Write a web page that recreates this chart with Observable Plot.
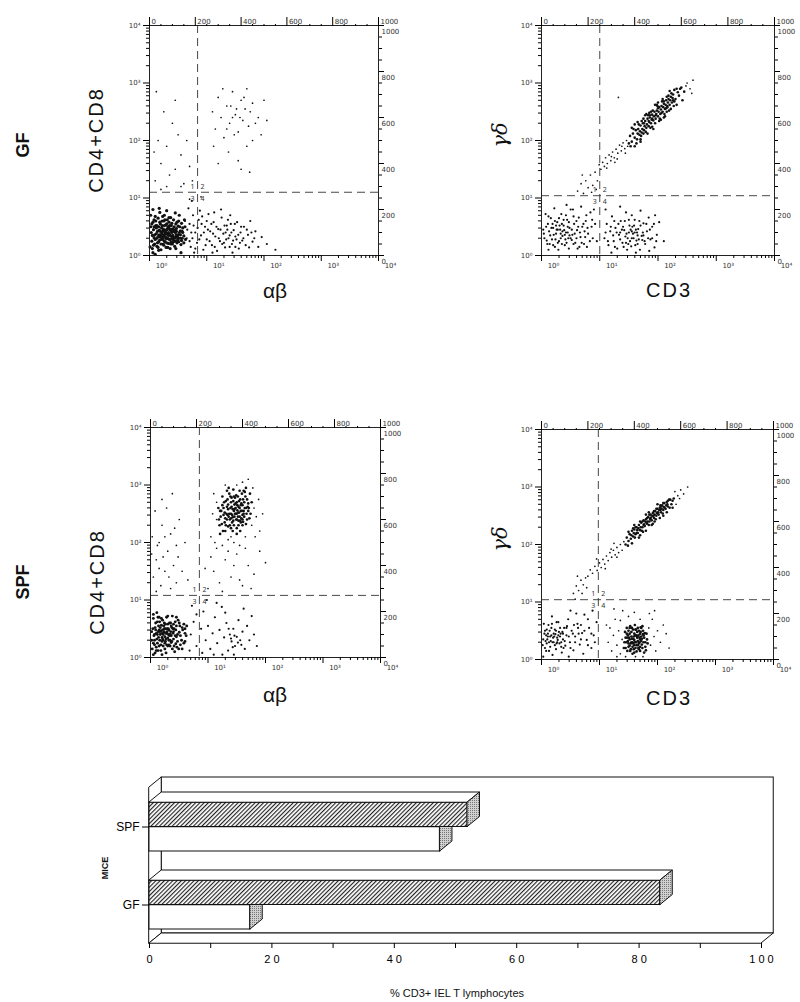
<!DOCTYPE html>
<html><head><meta charset="utf-8">
<script src="https://cdn.jsdelivr.net/npm/d3@7"></script>
<script src="https://cdn.jsdelivr.net/npm/@observablehq/plot@0.6"></script>
<style>
body{margin:0;background:#fff;width:800px;height:1002px;position:relative;overflow:hidden;font-family:"Liberation Sans",Arial,sans-serif;}
.lab{position:absolute;color:#111;white-space:nowrap;line-height:1;}
</style></head><body>
<svg width="0" height="0" style="position:absolute;left:0;top:0"><defs>
<pattern id="hatch" patternUnits="userSpaceOnUse" width="3" height="3" patternTransform="rotate(45)"><rect width="3" height="3" fill="#fff"/><line x1="0.5" y1="0" x2="0.5" y2="3" stroke="#222" stroke-width="1.3"/></pattern>
<pattern id="stipple" patternUnits="userSpaceOnUse" width="2" height="2"><rect width="2" height="2" fill="#d0d0d0"/><rect width="1" height="1" fill="#777"/></pattern>
</defs></svg>
<script>
// ---------- axis tick labels ----------
const decades = [0, 1, 2, 3, 4];
const decadeLabels = ["10⁰", "10¹", "10²", "10³", "10⁴"];
const channelMajor = [0, 200, 400, 600, 800, 1000];
const channelMinor = [50,100,150,250,300,350,450,500,550,650,700,750,850,900,950];
const quadrants = ["1", "2", "3", "4"];

// ---------- scatter data (log10 decades: [x, y]) ----------
// GF: CD4+CD8 vs alpha-beta
const gfAlphaBetaDense = [[0.05,0.12],[0.08,0.31],[0.11,0.52],[0.14,0.22],[0.17,0.44],[0.2,0.35],[0.22,0.6],[0.25,0.18],[0.27,0.41],[0.3,0.29],[0.32,0.5],[0.35,0.37],[0.38,0.23],[0.4,0.46],[0.43,0.31],[0.46,0.55],[0.49,0.27],[0.52,0.4],[0.55,0.19],[0.58,0.48],
[0.03,0.4],[0.06,0.58],[0.09,0.2],[0.12,0.38],[0.15,0.65],[0.18,0.27],[0.21,0.48],[0.24,0.33],[0.26,0.7],[0.29,0.14],[0.31,0.37],[0.34,0.58],[0.36,0.27],[0.39,0.4],[0.42,0.62],[0.44,0.16],[0.47,0.36],[0.5,0.51],[0.53,0.3],[0.6,0.34],
[0.04,0.25],[0.07,0.45],[0.1,0.68],[0.13,0.3],[0.16,0.09],[0.19,0.55],[0.23,0.42],[0.25,0.26],[0.28,0.53],[0.3,0.45],[0.33,0.21],[0.35,0.46],[0.37,0.66],[0.41,0.28],[0.44,0.44],[0.48,0.22],[0.51,0.6],[0.54,0.43],[0.57,0.3],[0.62,0.5],
[0.02,0.7],[0.06,0.05],[0.09,0.36],[0.12,0.48],[0.15,0.33],[0.18,0.75],[0.2,0.2],[0.23,0.3],[0.26,0.52],[0.28,0.32],[0.31,0.62],[0.33,0.4],[0.36,0.12],[0.38,0.52],[0.41,0.35],[0.45,0.25],[0.47,0.47],[0.5,0.36],[0.56,0.56],[0.6,0.22],
[0.08,0.5],[0.13,0.16],[0.17,0.36],[0.21,0.28],[0.24,0.46],[0.27,0.24],[0.29,0.4],[0.32,0.3],[0.34,0.5],[0.37,0.34],[0.4,0.2],[0.42,0.42],[0.46,0.32],[0.19,0.42],[0.22,0.38],[0.26,0.36],[0.3,0.22],[0.35,0.28],[0.39,0.3],[0.16,0.5],
[0.01,0.15],[0.04,0.55],[0.07,0.18],[0.1,0.28],[0.11,0.6],[0.14,0.42],[0.16,0.24],[0.18,0.58],[0.2,0.1],[0.21,0.4],[0.23,0.68],[0.24,0.2],[0.26,0.44],[0.27,0.62],[0.29,0.3],[0.3,0.55],[0.32,0.14],[0.33,0.35],[0.34,0.66],[0.36,0.45],[0.37,0.2],[0.39,0.56],[0.4,0.33],[0.42,0.24],[0.43,0.5],[0.45,0.4],[0.46,0.12],[0.48,0.58],[0.49,0.34],[0.51,0.24],[0.52,0.7],[0.54,0.36],[0.56,0.26],[0.58,0.4],[0.61,0.62],[0.63,0.28],[0.02,0.5],[0.05,0.35],[0.08,0.62],[0.13,0.52],[0.15,0.14],[0.19,0.32],[0.22,0.52],[0.25,0.6],[0.28,0.38],[0.31,0.46],[0.35,0.52],[0.38,0.42],[0.41,0.46],[0.44,0.3],[0.47,0.42],[0.5,0.3],[0.53,0.5],[0.57,0.42],[0.06,0.8],[0.17,0.82],[0.3,0.78],[0.45,0.74],[0.55,0.05],[0.1,0.02]];
const gfAlphaBetaQ4 = [[0.65,0.3],[0.7,0.55],[0.72,0.15],[0.76,0.7],[0.8,0.4],[0.83,0.22],[0.86,0.62],[0.9,0.35],[0.94,0.1],[0.97,0.5],[1.0,0.28],[1.03,0.72],[1.06,0.42],[1.09,0.18],[1.12,0.58],[1.15,0.33],[1.18,0.08],[1.2,0.46],[1.23,0.25],[1.26,0.66],[1.29,0.38],[1.32,0.14],[1.35,0.52],[1.38,0.3],[1.41,0.7],[1.44,0.2],[1.47,0.44],[1.5,0.33],[1.53,0.58],[1.56,0.12],[1.59,0.4],[1.62,0.26],[1.65,0.5],[1.68,0.18],[1.72,0.36],[1.76,0.6],[1.8,0.24],[1.85,0.42],[1.9,0.15],[1.96,0.32],[0.68,0.82],[0.78,0.05],[0.88,0.78],[1.0,0.6],[1.1,0.05],[1.25,0.8],[1.36,0.45],[1.45,0.05],[1.3,0.22],[1.52,0.28],[1.58,0.22],[1.4,0.35],[2.05,0.2],[2.2,0.1],[0.74,0.95],
[0.62,0.6],[0.66,0.45],[0.7,0.25],[0.73,0.4],[0.77,0.52],[0.8,0.12],[0.84,0.48],[0.87,0.28],[0.91,0.55],[0.95,0.4],[0.98,0.18],[1.02,0.45],[1.05,0.25],[1.08,0.55],[1.11,0.38],[1.14,0.15],[1.17,0.5],[1.21,0.3],[1.24,0.45],[1.27,0.2],[1.31,0.52],[1.34,0.28],[1.37,0.62],[1.4,0.15],[1.43,0.4],[1.46,0.26],[1.49,0.55],[1.55,0.36],[1.6,0.5],[1.64,0.3],[1.7,0.45],[1.74,0.14],[1.78,0.4],[1.83,0.3],[0.75,0.3],[0.92,0.68],[1.13,0.75],[1.33,0.4],[1.5,0.15],[1.42,0.55]];
const gfAlphaBetaQ2 = [[1.1,2.5],[1.15,2.2],[1.2,2.75],[1.25,2.4],[1.3,2.05],[1.35,2.6],[1.4,2.3],[1.45,2.85],[1.5,2.45],[1.55,2.15],[1.6,2.7],[1.63,2.35],[1.67,2.55],[1.7,2.9],[1.73,2.25],[1.76,2.5],[1.8,2.65],[1.85,2.3],[1.9,2.4],[1.42,2.6],[1.52,2.55],[1.58,2.4],[1.65,2.75],[1.48,2.1],[1.38,1.8],[1.55,1.65],[1.7,1.9],[1.2,1.6],[1.95,2.1],[2.05,2.35],[1.28,2.9],[1.12,1.9],[1.6,1.5],[1.8,2.0],[1.45,2.4],[1.35,2.2],[2.0,2.7],[1.75,1.45]];
const gfAlphaBetaQ1 = [[0.1,1.3],[0.2,1.6],[0.15,2.0],[0.35,1.4],[0.3,1.9],[0.45,1.5],[0.55,1.75],[0.25,2.5],[0.4,2.3],[0.6,1.25],[0.7,1.55],[0.12,2.85],[0.5,2.1],[0.3,1.2],[0.65,2.0],[0.08,1.8],[0.2,1.15],[0.45,2.7],[0.75,1.3],[0.55,1.2],[0.7,0.98],[0.9,1.02]];

// GF: gamma-delta vs CD3
const gfGammaDeltaDiag = [[1.5,1.95],[1.52,2.08],[1.55,1.98],[1.57,2.12],[1.6,2.05],[1.62,2.18],[1.64,2.02],[1.66,2.2],[1.68,2.1],[1.7,2.26],[1.72,2.14],[1.74,2.3],[1.76,2.18],[1.78,2.34],[1.8,2.22],[1.82,2.38],[1.84,2.25],[1.86,2.4],[1.88,2.3],[1.9,2.45],[1.92,2.35],[1.94,2.5],[1.96,2.38],[1.98,2.52],[2.0,2.42],[2.02,2.58],[2.04,2.46],[2.06,2.6],[2.08,2.5],[2.1,2.64],[2.12,2.55],[2.14,2.7],[2.16,2.58],[2.18,2.72],[2.2,2.62],[2.22,2.76],[2.24,2.66],[2.26,2.8],[2.3,2.72],[2.34,2.84],
[1.53,1.9],[1.58,2.2],[1.63,1.95],[1.67,2.28],[1.71,2.08],[1.75,2.38],[1.79,2.15],[1.83,2.44],[1.87,2.22],[1.91,2.52],[1.95,2.3],[1.99,2.6],[2.03,2.38],[2.07,2.68],[2.11,2.46],[2.15,2.76],[2.19,2.52],[2.23,2.82],[2.27,2.6],[2.32,2.9],[1.85,2.32],[1.89,2.36],[1.93,2.42],[1.97,2.46],[2.01,2.5],[2.05,2.54],[2.09,2.58],[2.13,2.62],[2.17,2.66],[1.81,2.28],[1.77,2.25],[1.73,2.2],[1.69,2.16],[1.65,2.12],[2.21,2.7],[2.25,2.74],[2.36,2.78],[2.4,2.92],[2.45,2.85],[2.28,2.68],
[1.6,2.28],[1.7,2.02],[1.8,2.46],[1.9,2.24],[2.0,2.66],[2.1,2.4],[2.2,2.86],[1.75,2.12],[1.95,2.62],[2.05,2.36],[1.85,2.48],[2.15,2.5],
[1.55,2.22],[1.6,1.9],[1.65,2.32],[1.7,1.98],[1.78,2.44],[1.82,2.12],[1.88,2.5],[1.92,2.2],[1.98,2.62],[2.02,2.34],[2.08,2.72],[2.12,2.42],[2.18,2.78],[2.22,2.55],[2.28,2.88],[2.32,2.62],[2.38,2.9],[2.42,2.7],[1.72,2.34],[1.84,2.34],[1.96,2.44],[2.06,2.48],[2.16,2.6],[1.9,2.38],[2.0,2.56],[2.1,2.68],[1.76,2.3],[1.86,2.44],[2.26,2.7],[2.14,2.56]];
const gfGammaDeltaDiagLow = [[1.02,1.5],[1.05,1.62],[1.08,1.55],[1.1,1.7],[1.13,1.6],[1.16,1.75],[1.19,1.65],[1.22,1.8],[1.25,1.7],[1.28,1.85],[1.31,1.78],[1.34,1.92],[1.37,1.82],[1.4,1.96],[1.43,1.86],[1.46,2.0],[1.48,1.9],[1.2,1.72],[1.3,1.68],[1.38,1.9],[1.12,1.52],[1.26,1.62],[1.44,1.78],
[0.62,1.12],[0.68,1.25],[0.72,1.08],[0.76,1.3],[0.8,1.18],[0.84,1.4],[0.88,1.22],[0.92,1.45],[0.96,1.3],[0.99,1.58],[0.7,1.4],[0.86,1.1],[0.94,1.15],
[2.5,3.0],[2.55,2.9],[2.6,3.05],[2.48,2.95],[2.58,2.82],[1.32,2.75]];
const gfGammaDeltaBL = [[0.05,0.3],[0.08,0.5],[0.1,0.2],[0.13,0.42],[0.16,0.65],[0.18,0.28],[0.2,0.48],[0.23,0.15],[0.25,0.38],[0.27,0.58],[0.3,0.25],[0.32,0.45],[0.34,0.72],[0.36,0.34],[0.38,0.52],[0.4,0.18],[0.42,0.4],[0.44,0.62],[0.46,0.3],[0.48,0.48],[0.5,0.8],[0.53,0.36],[0.56,0.55],[0.58,0.22],[0.61,0.44],[0.64,0.66],[0.67,0.32],[0.7,0.5],[0.73,0.2],[0.76,0.6],[0.8,0.38],[0.84,0.75],[0.88,0.3],[0.92,0.55],[0.07,0.72],[0.12,0.1],[0.22,0.82],[0.29,0.1],[0.35,0.55],[0.41,0.28],[0.47,0.12],[0.55,0.68],[0.62,0.12],[0.68,0.85],[0.78,0.15],[0.86,0.5],[0.95,0.25],[0.15,0.35],[0.24,0.28],[0.33,0.38],[0.39,0.44],[0.45,0.5],[0.28,0.45],[0.19,0.55],[0.52,0.27],[0.6,0.6],[0.74,0.42],[0.9,0.8],[0.03,0.45],[0.43,0.88],
[0.04,0.38],[0.09,0.26],[0.11,0.55],[0.14,0.2],[0.17,0.48],[0.21,0.36],[0.23,0.6],[0.26,0.45],[0.28,0.22],[0.31,0.52],[0.33,0.3],[0.36,0.42],[0.38,0.62],[0.4,0.36],[0.43,0.22],[0.45,0.4],[0.47,0.58],[0.5,0.3],[0.52,0.45],[0.55,0.2],[0.57,0.38],[0.6,0.3],[0.63,0.5],[0.66,0.4],[0.69,0.22],[0.72,0.55],[0.75,0.32],[0.79,0.48],[0.83,0.25],[0.87,0.62],[0.2,0.18],[0.3,0.65],[0.42,0.7],[0.54,0.8],[0.65,0.15],[0.77,0.7],[0.12,0.68],[0.25,0.52],[0.35,0.2],[0.48,0.35]];
const gfGammaDeltaBR = [[1.08,0.3],[1.12,0.55],[1.15,0.18],[1.18,0.42],[1.21,0.68],[1.24,0.25],[1.27,0.48],[1.3,0.12],[1.33,0.36],[1.36,0.6],[1.39,0.22],[1.42,0.44],[1.45,0.75],[1.48,0.3],[1.51,0.52],[1.54,0.16],[1.57,0.38],[1.6,0.62],[1.63,0.26],[1.66,0.46],[1.69,0.1],[1.72,0.34],[1.75,0.56],[1.78,0.2],[1.81,0.42],[1.84,0.66],[1.87,0.28],[1.9,0.5],[1.94,0.14],[1.98,0.36],[2.02,0.58],[1.1,0.8],[1.2,0.05],[1.35,0.85],[1.47,0.1],[1.55,0.7],[1.62,0.05],[1.7,0.78],[1.85,0.08],[1.5,0.4],[1.58,0.3],[1.65,0.35],[1.52,0.25],[1.44,0.33],[1.62,0.45],[1.73,0.27],[1.4,0.5],[1.56,0.5],[1.68,0.6],[2.1,0.25],[1.95,0.7],[1.25,0.6],
[1.1,0.4],[1.14,0.25],[1.19,0.5],[1.23,0.35],[1.26,0.15],[1.29,0.4],[1.32,0.55],[1.35,0.28],[1.38,0.45],[1.41,0.15],[1.43,0.6],[1.46,0.38],[1.49,0.2],[1.53,0.45],[1.55,0.3],[1.59,0.52],[1.61,0.18],[1.64,0.4],[1.67,0.28],[1.7,0.52],[1.74,0.4],[1.77,0.25],[1.8,0.55],[1.83,0.3],[1.86,0.45],[1.9,0.3],[1.93,0.55],[1.97,0.25],[1.5,0.62],[1.6,0.4],[1.45,0.22],[1.65,0.2],[1.35,0.4],[1.55,0.42],[1.75,0.35]];

// SPF: CD4+CD8 vs alpha-beta
const spfAlphaBetaQ2 = [[1.2,2.3],[1.23,2.55],[1.26,2.2],[1.28,2.7],[1.3,2.42],[1.33,2.62],[1.35,2.28],[1.37,2.85],[1.4,2.5],[1.42,2.35],[1.44,2.72],[1.46,2.45],[1.48,2.6],[1.5,2.25],[1.52,2.8],[1.54,2.52],[1.56,2.38],[1.58,2.68],[1.6,2.48],[1.62,2.9],[1.64,2.6],[1.66,2.32],[1.68,2.75],[1.7,2.55],[1.72,2.42],
[1.22,2.45],[1.25,2.65],[1.29,2.35],[1.32,2.5],[1.34,2.75],[1.38,2.4],[1.41,2.62],[1.43,2.2],[1.47,2.78],[1.49,2.4],[1.51,2.65],[1.53,2.3],[1.57,2.55],[1.59,2.85],[1.61,2.36],[1.63,2.7],[1.67,2.5],[1.69,2.62],[1.45,2.55],[1.5,2.5],[1.55,2.6],[1.4,2.7],[1.35,2.58],[1.6,2.65],[1.65,2.8],
[1.18,2.6],[1.21,2.15],[1.27,2.48],[1.31,2.3],[1.36,2.45],[1.39,2.8],[1.45,2.3],[1.5,2.7],[1.56,2.2],[1.58,2.42],[1.62,2.55],[1.66,2.95],[1.7,2.68],[1.73,2.85],[1.44,2.92],[1.33,2.9],[1.48,2.5],[1.52,2.45],[1.42,2.48],[1.54,2.72],
[1.19,2.4],[1.21,2.55],[1.24,2.32],[1.27,2.6],[1.29,2.52],[1.31,2.72],[1.33,2.4],[1.35,2.66],[1.37,2.5],[1.38,2.3],[1.4,2.42],[1.41,2.78],[1.43,2.58],[1.44,2.38],[1.46,2.66],[1.47,2.5],[1.49,2.82],[1.5,2.4],[1.51,2.56],[1.53,2.62],[1.55,2.45],[1.56,2.75],[1.57,2.35],[1.59,2.55],[1.6,2.4],[1.61,2.75],[1.63,2.45],[1.64,2.88],[1.66,2.6],[1.68,2.4],[1.71,2.6],[1.74,2.5],[1.76,2.7],[1.3,2.2],[1.4,2.25],[1.5,2.15],[1.6,2.3],[1.25,2.8],[1.36,2.95],[1.55,2.9],[1.46,2.58],[1.48,2.68],[1.52,2.52],[1.43,2.44],[1.39,2.6],[1.57,2.65],[1.34,2.48],[1.62,2.5],[1.45,2.8],[1.53,2.38]];
const spfAlphaBetaSparse = [[1.05,2.1],[1.08,2.5],[1.1,2.85],[1.12,2.0],[1.15,2.4],[1.76,2.3],[1.8,2.6],[1.84,2.45],[1.88,2.75],[1.9,2.2],[1.78,2.95],[1.6,3.05],[1.5,3.0],[1.7,3.1],[1.25,1.95],[1.35,2.05],[1.45,2.0],[1.55,1.95],[1.65,2.1],[1.82,2.1],[1.3,3.0],[1.15,2.7],[1.95,2.5],[1.4,2.1],
[1.0,1.2],[1.1,1.5],[1.2,1.3],[1.3,1.7],[1.4,1.4],[1.5,1.8],[1.6,1.25],[1.7,1.6],[1.8,1.45],[1.9,1.85],[1.05,1.75],[1.25,1.15],[1.45,1.6],[1.65,1.9],[1.35,1.85],[0.95,1.55],[1.15,1.9],[1.55,1.35],[1.75,1.2],[2.0,1.65],
[0.05,1.4],[0.1,1.7],[0.15,2.0],[0.2,2.3],[0.25,1.5],[0.3,1.85],[0.35,2.15],[0.4,1.6],[0.45,1.95],[0.5,2.4],[0.08,2.55],[0.18,1.25],[0.28,2.6],[0.38,2.85],[0.12,1.95],[0.22,1.75],[0.32,1.4],[0.42,2.25],[0.48,1.75],[0.03,2.1],[0.55,1.5],[0.6,2.0],[0.25,2.1],[0.15,1.55],[0.35,1.2],[0.1,1.15],[0.45,1.3],[0.2,2.75],[0.65,1.35],[0.02,1.8]];
const spfAlphaBetaBL = [[0.03,0.15],[0.06,0.38],[0.09,0.6],[0.12,0.25],[0.15,0.48],[0.18,0.12],[0.2,0.35],[0.23,0.55],[0.26,0.28],[0.28,0.7],[0.31,0.4],[0.34,0.2],[0.37,0.52],[0.4,0.32],[0.43,0.62],[0.46,0.18],[0.5,0.44],[0.54,0.3],[0.58,0.58],[0.62,0.38],
[0.04,0.5],[0.07,0.22],[0.1,0.42],[0.13,0.7],[0.16,0.3],[0.19,0.56],[0.22,0.2],[0.24,0.44],[0.27,0.08],[0.3,0.58],[0.32,0.3],[0.35,0.45],[0.38,0.15],[0.41,0.5],[0.45,0.36],[0.48,0.65],[0.52,0.22],[0.56,0.48],[0.6,0.28],[0.02,0.3],
[0.05,0.68],[0.08,0.08],[0.11,0.32],[0.14,0.55],[0.17,0.4],[0.21,0.65],[0.25,0.36],[0.29,0.5],[0.33,0.6],[0.36,0.26],[0.39,0.42],[0.42,0.1],[0.44,0.48],[0.47,0.28],[0.51,0.55],[0.55,0.15],[0.18,0.46],[0.22,0.4],[0.26,0.5],[0.3,0.34],
[0.09,0.48],[0.12,0.4],[0.15,0.2],[0.2,0.28],[0.24,0.6],[0.28,0.22],[0.32,0.48],[0.36,0.38],[0.4,0.58],[0.16,0.62],[0.07,0.3],[0.13,0.12],[0.27,0.42],[0.34,0.3],[0.21,0.48],[0.11,0.78],[0.38,0.72],[0.05,0.05],[0.25,0.15],[0.6,0.5],
[0.02,0.45],[0.05,0.25],[0.08,0.52],[0.1,0.18],[0.12,0.62],[0.14,0.35],[0.16,0.45],[0.18,0.22],[0.19,0.68],[0.21,0.32],[0.23,0.45],[0.25,0.25],[0.26,0.58],[0.28,0.42],[0.3,0.2],[0.31,0.5],[0.33,0.38],[0.35,0.6],[0.37,0.28],[0.39,0.5],[0.41,0.2],[0.43,0.38],[0.45,0.55],[0.47,0.4],[0.49,0.15],[0.52,0.38],[0.55,0.52],[0.58,0.25],[0.6,0.42],[0.63,0.55],[0.07,0.4],[0.1,0.12],[0.13,0.45],[0.17,0.52],[0.2,0.42],[0.22,0.3],[0.24,0.5],[0.27,0.32],[0.29,0.45],[0.32,0.22],[0.34,0.4],[0.36,0.55],[0.4,0.45],[0.44,0.24],[0.5,0.6],[0.15,0.7],[0.3,0.72],[0.05,0.75],[0.45,0.7],[0.2,0.05]];
const spfAlphaBetaQ4 = [[0.7,0.4],[0.75,0.62],[0.8,0.2],[0.88,0.5],[0.92,0.8],[0.96,0.3],[1.0,0.55],[1.04,0.15],[1.08,0.42],[1.12,0.7],[1.16,0.25],[1.2,0.48],[1.24,0.88],[1.28,0.35],[1.32,0.6],[1.35,0.12],[1.38,0.4],[1.41,0.28],[1.44,0.5],[1.47,0.2],[1.5,0.36],[1.53,0.65],[1.56,0.3],[1.6,0.45],[1.64,0.15],[1.68,0.55],[1.72,0.3],[1.76,0.72],[1.8,0.4],[1.4,0.33],[1.46,0.38],[1.52,0.26],[1.43,0.18],[1.36,0.5],[1.58,0.22],[1.3,0.78],[1.15,0.95],[0.98,1.0],[1.62,0.85],[1.1,0.05],[1.25,0.05],[1.45,0.05],[1.85,0.2],[0.9,0.08],[0.72,0.9],[0.8,0.75],[0.68,0.12]];

// SPF: gamma-delta vs CD3
const spfGammaDeltaDiag = [[1.45,2.0],[1.47,2.12],[1.5,2.06],[1.52,2.18],[1.54,2.1],[1.56,2.24],[1.58,2.14],[1.6,2.26],[1.62,2.18],[1.64,2.3],[1.66,2.2],[1.68,2.34],[1.7,2.25],[1.72,2.38],[1.74,2.3],[1.76,2.42],[1.78,2.32],[1.8,2.44],[1.82,2.36],[1.84,2.48],[1.86,2.4],[1.88,2.52],[1.9,2.42],[1.92,2.55],[1.94,2.46],[1.96,2.58],[1.98,2.5],[2.0,2.62],[2.02,2.52],[2.04,2.64],[2.06,2.56],[2.08,2.68],[2.1,2.6],[2.12,2.72],[2.14,2.62],[2.16,2.74],[2.18,2.66],[2.2,2.78],[2.24,2.7],[2.28,2.8],
[1.49,1.98],[1.55,2.16],[1.61,2.12],[1.67,2.28],[1.73,2.24],[1.79,2.4],[1.85,2.34],[1.91,2.5],[1.97,2.44],[2.03,2.6],[2.09,2.54],[2.15,2.68],[2.21,2.64],[2.26,2.76],[1.83,2.4],[1.87,2.45],[1.93,2.5],[1.99,2.55],[2.05,2.6],[2.11,2.65],[1.77,2.35],[1.71,2.3],[1.65,2.25],[1.59,2.2],[2.17,2.7],[1.95,2.52],[2.01,2.56],[1.89,2.47],[2.07,2.62],[1.81,2.38],
[1.6,2.34],[1.7,2.16],[1.8,2.52],[1.9,2.34],[2.0,2.7],[2.1,2.5],[1.75,2.22],[1.95,2.4],[2.05,2.68],[1.85,2.56],
[1.5,2.22],[1.56,2.02],[1.62,2.3],[1.68,2.12],[1.74,2.4],[1.8,2.24],[1.86,2.52],[1.92,2.36],[1.98,2.62],[2.04,2.46],[2.1,2.72],[2.16,2.56],[2.22,2.78],[2.26,2.64],[1.64,2.2],[1.76,2.34],[1.88,2.44],[2.0,2.54],[2.12,2.64],[1.82,2.46],[1.94,2.58],[2.06,2.66],[1.7,2.4],[1.58,2.28],[2.18,2.76]];
const spfGammaDeltaDiagLow = [[0.8,1.45],[0.84,1.56],[0.88,1.5],[0.92,1.62],[0.96,1.55],[1.0,1.68],[1.03,1.6],[1.06,1.74],[1.09,1.66],[1.12,1.8],[1.15,1.72],[1.18,1.86],[1.21,1.78],[1.24,1.9],[1.27,1.82],[1.3,1.95],[1.33,1.86],[1.36,2.0],[1.39,1.9],[1.42,2.05],[1.1,1.58],[1.2,1.92],[1.3,1.78],[0.95,1.75],[1.25,2.02],
[0.55,1.15],[0.6,1.28],[0.64,1.2],[0.68,1.38],[0.72,1.3],[0.76,1.42],[0.58,1.05],[0.7,1.15],[0.62,1.45],[0.78,1.25],
[2.35,2.85],[2.4,2.95],[2.45,2.88],[2.52,3.0],[2.32,2.7],[2.38,2.8],[2.3,2.92]];
const spfGammaDeltaBL = [[0.02,0.25],[0.05,0.45],[0.08,0.15],[0.1,0.35],[0.12,0.6],[0.15,0.22],[0.17,0.42],[0.19,0.08],[0.21,0.3],[0.23,0.52],[0.25,0.18],[0.27,0.38],[0.29,0.65],[0.31,0.28],[0.33,0.45],[0.35,0.12],[0.37,0.35],[0.39,0.55],[0.41,0.24],[0.43,0.42],[0.46,0.7],[0.49,0.3],[0.52,0.5],[0.55,0.16],[0.58,0.4],[0.62,0.62],[0.66,0.26],[0.7,0.46],[0.74,0.78],[0.78,0.34],[0.82,0.55],[0.86,0.2],[0.9,0.42],[0.95,0.65],[0.04,0.62],[0.07,0.32],[0.14,0.5],[0.18,0.75],[0.22,0.4],[0.26,0.28],[0.3,0.48],[0.34,0.3],[0.38,0.2],[0.44,0.58],[0.5,0.85],[0.56,0.6],[0.64,0.45],[0.72,0.1],[0.8,0.7],[0.88,0.85],[0.13,0.3],[0.2,0.38],[0.24,0.44],[0.28,0.34],[0.32,0.4],[0.11,0.4],[0.16,0.32],[0.09,0.52],[0.36,0.48],[0.06,0.2],[0.6,0.8],[0.47,0.05],[0.03,0.05],[0.68,0.6],[0.92,0.3],
[0.03,0.35],[0.06,0.5],[0.09,0.28],[0.11,0.45],[0.13,0.15],[0.15,0.4],[0.17,0.55],[0.19,0.3],[0.21,0.45],[0.23,0.25],[0.25,0.5],[0.27,0.3],[0.29,0.42],[0.32,0.55],[0.34,0.22],[0.37,0.45],[0.4,0.32],[0.43,0.55],[0.47,0.4],[0.5,0.2],[0.54,0.45],[0.58,0.3],[0.63,0.55],[0.68,0.35],[0.74,0.5],[0.8,0.25],[0.86,0.45],[0.18,0.62],[0.26,0.65],[0.08,0.42]];
const spfGammaDeltaBR = [[1.42,0.2],[1.45,0.38],[1.47,0.55],[1.5,0.28],[1.52,0.45],[1.54,0.18],[1.56,0.36],[1.58,0.52],[1.6,0.25],[1.62,0.42],[1.64,0.14],[1.66,0.32],[1.68,0.5],[1.7,0.22],[1.72,0.4],[1.74,0.58],[1.76,0.3],[1.78,0.46],[1.8,0.16],[1.82,0.35],
[1.44,0.48],[1.48,0.15],[1.51,0.38],[1.53,0.58],[1.57,0.22],[1.59,0.4],[1.61,0.6],[1.63,0.3],[1.65,0.48],[1.67,0.2],[1.69,0.38],[1.71,0.56],[1.73,0.26],[1.75,0.44],[1.77,0.12],[1.79,0.3],[1.55,0.3],[1.6,0.34],[1.65,0.4],[1.58,0.28],
[1.46,0.3],[1.49,0.42],[1.55,0.48],[1.62,0.2],[1.68,0.28],[1.72,0.32],[1.63,0.52],[1.57,0.1],[1.7,0.45],[1.52,0.24],
[1.43,0.3],[1.45,0.2],[1.47,0.45],[1.49,0.32],[1.5,0.5],[1.52,0.35],[1.53,0.15],[1.55,0.4],[1.56,0.55],[1.57,0.3],[1.59,0.18],[1.6,0.45],[1.61,0.3],[1.62,0.52],[1.64,0.25],[1.65,0.38],[1.66,0.55],[1.67,0.42],[1.69,0.3],[1.7,0.15],[1.71,0.48],[1.73,0.36],[1.74,0.2],[1.75,0.5],[1.77,0.38],[1.79,0.22],[1.81,0.45],[1.83,0.28],[1.5,0.22],[1.54,0.28],[1.58,0.36],[1.63,0.42],[1.68,0.18],[1.72,0.55],[1.76,0.42],[1.48,0.38],[1.6,0.12],[1.66,0.25],[1.52,0.55],[1.7,0.35]];
const spfGammaDeltaBRSparse = [[1.15,0.3],[1.18,0.55],[1.21,0.15],[1.24,0.42],[1.27,0.7],[1.3,0.25],[1.33,0.5],[1.36,0.1],[1.39,0.35],[1.36,0.68],[1.85,0.55],[1.88,0.25],[1.91,0.7],[1.94,0.4],[1.97,0.15],[2.0,0.5],[1.86,0.8],[1.5,0.75],[1.6,0.82],[1.7,0.7],[1.4,0.85],[1.25,0.88],[1.75,0.05],[1.45,0.05],[1.62,0.05],[2.05,0.3],[2.1,0.6],[2.2,0.2],[1.12,0.6],[1.3,0.05],[1.95,0.85],[2.15,0.45]];

// quadrant gates (decades)
const gates = {gfAB:[0.84,1.1], gfGD:[1.0,1.04], spfAB:[0.85,1.08], spfGD:[0.98,1.04]};

// ---------- bar chart data ----------
const mice = ["GF", "SPF"];
const pctAlphaBeta = [16.5, 47.5];   // open bars
const pctGammaDelta = [83.5, 52];    // hatched bars
const pctTicks = [0,10,20,30,40,50,60,70,80,90,100];

// ---------- helpers ----------
const minorDec = d3.range(0, 4).flatMap(d => d3.range(2, 10).map(k => d + Math.log10(k)));
const chan = c => c / 250;

function place(el, left, top) {
  el.style.position = "absolute";
  el.style.left = left + "px";
  el.style.top = top + "px";
  el.style.maxWidth = "none";
  document.body.appendChild(el);
}
function label(text, x, y, css, rot) {
  const d = document.createElement("div");
  d.className = "lab";
  d.textContent = text;
  d.setAttribute("style", css + "left:" + x + "px;top:" + y + "px;transform:translate(-50%,-50%)" + (rot ? " rotate(-90deg);" : ";"));
  document.body.appendChild(d);
}

function panel({clusters, gate, left, top, w, h, mr}) {
  const ML = 40, MT = 25, MB = 30;
  const [gx, gy] = gate;
  const txt = {fontSize: 7, fill: "#333", fontFamily: "'DejaVu Sans', sans-serif"};
  const noText = () => "";
  const svg = Plot.plot({
    width: ML + w + mr, height: MT + h + MB,
    marginLeft: ML, marginRight: mr, marginTop: MT, marginBottom: MB,
    x: {domain: [0, 4]}, y: {domain: [0, 4]},
    style: {background: "transparent", overflow: "visible"},
    marks: [
      ...clusters.map(c => Plot.dot(c.pts, {x: d => d[0], y: d => d[1], r: c.r, fill: "#111", stroke: "none"})),
      Plot.ruleX([gx], {stroke: "#333", strokeDasharray: "8,5", strokeWidth: 0.9}),
      Plot.ruleY([gy], {stroke: "#333", strokeDasharray: "8,5", strokeWidth: 0.9}),
      ...quadrants.map((q, i) => Plot.text([q], {x: () => gx, y: () => gy, text: d => d,
        dx: i % 2 ? 5 : -5, dy: i < 2 ? -6 : 6, fontSize: 7, fill: "#333"})),
      Plot.frame({stroke: "#222"}),
      Plot.axisY({anchor: "left", ticks: decades, tickSize: 6, tickFormat: noText, label: null}),
      Plot.axisY({anchor: "left", ticks: minorDec, tickSize: 3, tickFormat: noText, label: null}),
      Plot.axisX({anchor: "bottom", ticks: decades, tickSize: 6, tickFormat: noText, label: null}),
      Plot.axisX({anchor: "bottom", ticks: minorDec, tickSize: 3, tickFormat: noText, label: null}),
      Plot.axisX({anchor: "top", ticks: channelMajor.map(chan), tickSize: 9, tickFormat: noText, label: null}),
      Plot.axisX({anchor: "top", ticks: channelMinor.map(chan), tickSize: 2, tickFormat: noText, label: null}),
      Plot.axisY({anchor: "right", ticks: channelMajor.map(chan), tickSize: 5, tickFormat: noText, label: null}),
      Plot.axisY({anchor: "right", ticks: channelMinor.map(chan), tickSize: 3, tickFormat: noText, label: null}),
      Plot.text(decades, {y: d => d, text: d => decadeLabels[d], frameAnchor: "left", dx: -9, textAnchor: "end", ...txt}),
      Plot.text(decades, {x: d => d, text: d => decadeLabels[d], frameAnchor: "bottom", dy: 12, dx: 12, ...txt}),
      Plot.text(channelMajor, {x: chan, text: c => String(c), frameAnchor: "top", dy: -6, dx: 2, textAnchor: "start", ...txt}),
      Plot.text(channelMajor, {y: chan, text: c => String(c), frameAnchor: "right", dx: 3, dy: 6, textAnchor: "start", ...txt})
    ]
  });
  place(svg, left, top);
}

const dense = 1.6, mid = 1.1, sparse = 0.85;
panel({gate: gates.gfAB, left: 109, top: 0, w: 229, h: 230, mr: 40, clusters: [
  {pts: gfAlphaBetaDense, r: dense}, {pts: gfAlphaBetaQ4, r: mid}, {pts: gfAlphaBetaQ2, r: sparse}, {pts: gfAlphaBetaQ1, r: sparse}]});
panel({gate: gates.gfGD, left: 501, top: 0, w: 233, h: 230, mr: 26, clusters: [
  {pts: gfGammaDeltaDiag, r: 1.3}, {pts: gfGammaDeltaDiagLow, r: sparse}, {pts: gfGammaDeltaBL, r: mid}, {pts: gfGammaDeltaBR, r: mid}]});
panel({gate: gates.spfAB, left: 110, top: 402, w: 230, h: 230, mr: 40, clusters: [
  {pts: spfAlphaBetaQ2, r: 1.35}, {pts: spfAlphaBetaSparse, r: sparse}, {pts: spfAlphaBetaBL, r: 1.45}, {pts: spfAlphaBetaQ4, r: mid}]});
panel({gate: gates.spfGD, left: 501, top: 404, w: 232, h: 230, mr: 27, clusters: [
  {pts: spfGammaDeltaDiag, r: 1.3}, {pts: spfGammaDeltaDiagLow, r: sparse}, {pts: spfGammaDeltaBL, r: mid}, {pts: spfGammaDeltaBR, r: 1.35}, {pts: spfGammaDeltaBRSparse, r: sparse}]});

// panel labels
const big = "font-size:20px;letter-spacing:2px;";
const rowLab = "font-size:18px;font-weight:bold;";
const greek = "font-size:21px;font-style:italic;font-family:'DejaVu Serif',serif;";
label("GF", 23, 145, rowLab, true);
label("SPF", 23, 582, rowLab, true);
label("CD4+CD8", 96, 140, big, true);
label("CD4+CD8", 97, 582, big, true);
label("αβ", 275, 290, "font-size:21px;", false);
label("αβ", 275, 694, "font-size:21px;", false);
label("CD3", 669, 290, big, false);
label("CD3", 669, 698, big, false);
label("γδ", 500, 135, greek, true);
label("γδ", 500, 539, greek, true);

// ---------- 3D bar chart ----------
const depthX = 2, depthY = 10, floorGap = 14, barH = 24.5, groupStep = 78, wallTop = 166, sideTop = 156;
const bars = mice.flatMap((m, i) => [
  {mice: m, kind: "ab", value: pctAlphaBeta[i], y1: floorGap + i * groupStep},
  {mice: m, kind: "gd", value: pctGammaDelta[i], y1: floorGap + i * groupStep + barH}
]).map((b, k) => ({...b, y2: b.y1 + barH, id: k}));
const topFace = s => s.flatMap(b => [{id: b.id, y: b.y2, x1: 0, x2: b.value}, {id: b.id, y: b.y2 + depthY, x1: depthX, x2: b.value + depthX}]);
const sideFace = s => s.flatMap(b => [{id: b.id, x: b.value, y1: b.y1, y2: b.y2}, {id: b.id, x: b.value + depthX, y1: b.y1 + depthY, y2: b.y2 + depthY}]);
const barMarks = (s, fill) => [
  Plot.rect(s, {x1: () => 0, x2: "value", y1: "y1", y2: "y2", fill, stroke: "#111", strokeWidth: 1}),
  Plot.areaX(topFace(s), {y: "y", x1: "x1", x2: "x2", z: "id", fill: "#fff", stroke: "#111", strokeWidth: 1}),
  Plot.areaY(sideFace(s), {x: "x", y1: "y1", y2: "y2", z: "id", fill: "url(#stipple)", stroke: "#111", strokeWidth: 1})
];
const catTicks = mice.map((m, i) => floorGap + i * groupStep + barH);
const barSvg = Plot.plot({
  width: 800, height: 242,
  marginLeft: 149, marginRight: 39, marginTop: 17, marginBottom: 59,
  x: {domain: [0, 100]}, y: {domain: [0, wallTop]},
  style: {background: "transparent", overflow: "visible", fontFamily: "'Liberation Sans', Arial, sans-serif"},
  marks: [
    Plot.rect([0], {x1: () => depthX, x2: () => 100 + depthX, y1: () => depthY, y2: () => wallTop, fill: "#fff", stroke: "#111"}),
    Plot.areaY([{x: 0, y1: 0, y2: sideTop}, {x: depthX, y1: depthY, y2: wallTop}], {x: "x", y1: "y1", y2: "y2", fill: "#fff", stroke: "#111"}),
    Plot.areaX([{y: 0, x1: 0, x2: 100}, {y: depthY, x1: depthX, x2: 100 + depthX}], {y: "y", x1: "x1", x2: "x2", fill: "#fff", stroke: "#111"}),
    ...barMarks(bars.filter(b => b.kind === "ab"), "#fff"),
    ...barMarks(bars.filter(b => b.kind === "gd"), "url(#hatch)"),
    Plot.axisX({anchor: "bottom", ticks: pctTicks, tickSize: 5, tickPadding: 7, fontSize: 11, label: null,
      tickFormat: d => d % 20 === 0 ? String(d).split("").join(" ") : ""}),
    Plot.axisY({anchor: "left", ticks: catTicks, tickSize: 7, tickPadding: 3, fontSize: 12, label: null,
      tickFormat: d => mice[catTicks.indexOf(d)]})
  ]
});
place(barSvg, 0, 760);
label("MICE", 105, 868, "font-size:9px;font-weight:bold;", true);
label("% CD3+ IEL T lymphocytes", 457, 993, "font-size:11px;", false);
</script>
</body></html>
